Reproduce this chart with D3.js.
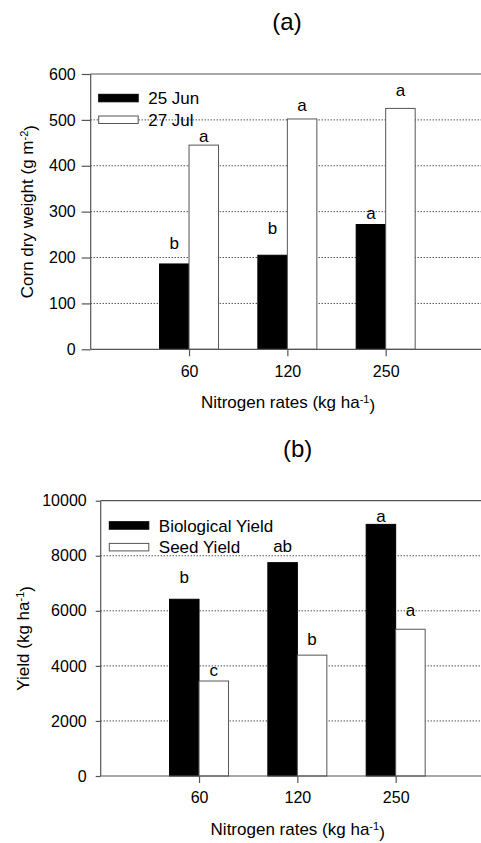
<!DOCTYPE html>
<html>
<head>
<meta charset="utf-8">
<script src="https://cdn.jsdelivr.net/npm/d3@7"></script>
<style>
  body { margin: 0; background: #fff; }
  svg { display: block; font-family: "Liberation Sans", Arial, sans-serif; }
</style>
</head>
<body>
<svg id="chart" width="481" height="843"></svg>
<script>
// nitrogen rates (x categories)
const rates = ['60', '120', '250'];

// (a) corn dry weight, g m-2
const jun25 = [186, 205, 272];
const jul27 = [445, 502, 525];
const jun25Letters = ['b', 'b', 'a'];
const jul27Letters = ['a', 'a', 'a'];
// upper end of the (hidden) error bars, where the letters sit
const jun25Upper = [219, 251, 284];
const jul27Upper = [452, 519, 551];
const weightTicks = [0, 100, 200, 300, 400, 500, 600];

// (b) yield, kg ha-1
const bioYield = [6420, 7750, 9140];
const seedYield = [3450, 4390, 5330];
const bioLetters = ['b', 'ab', 'a'];
const seedLetters = ['c', 'b', 'a'];
const bioUpper = [7000, 8120, 9240];
const seedUpper = [3630, 4750, 5810];
const yieldTicks = [0, 2000, 4000, 6000, 8000, 10000];

const svg = d3.select('#chart');
const axisColor = '#555';

function drawPanel(p) {
  const g = svg.append('g');

  var x = d3.scalePoint().domain(rates).range([p.left, p.right]).padding(1);
  var y = d3.scaleLinear().domain([0, p.ticks[p.ticks.length - 1]]).range([p.bottom, p.top]);
  const bw = 29.5;

  // title
  g.append('text')
    .attr('x', p.titleX).attr('y', p.titleY)
    .attr('text-anchor', 'middle')
    .style('font-size', '24px')
    .text(p.title);

  // dotted grid
  g.selectAll('.grid')
    .data(p.ticks.slice(1, -1))
    .enter().append('line')
    .attr('x1', p.left).attr('x2', p.right)
    .attr('y1', (d) => y(d)).attr('y2', (d) => y(d))
    .attr('stroke', '#000')
    .attr('stroke-width', 1)
    .attr('stroke-dasharray', '1,2');

  // frame top
  g.append('line')
    .attr('x1', p.left).attr('x2', p.right)
    .attr('y1', y(p.ticks[p.ticks.length - 1])).attr('y2', y(p.ticks[p.ticks.length - 1]))
    .attr('stroke', axisColor).attr('stroke-width', 1.2);

  // bars
  var series = [
    { vals: p.s1, fill: '#000', off: -bw, letters: p.l1, upper: p.u1 },
    { vals: p.s2, fill: '#fff', off: 0, letters: p.l2, upper: p.u2 }
  ];
  series.forEach((s) => {
    g.selectAll(null)
      .data(s.vals)
      .enter().append('rect')
      .attr('x', (d, i) => x(rates[i]) + s.off)
      .attr('y', (d) => y(d))
      .attr('width', bw)
      .attr('height', (d) => y(0) - y(d))
      .attr('fill', s.fill)
      .attr('stroke', s.fill == '#000' ? '#000' : axisColor)
      .attr('stroke-width', 1);

    g.selectAll(null)
      .data(s.letters)
      .enter().append('text')
      .attr('x', (d, i) => x(rates[i]) + s.off + bw / 2)
      .attr('y', (d, i) => y(s.upper[i]))
      .attr('text-anchor', 'middle')
      .style('font-size', '17px')
      .text((d) => d);
  });

  // axes
  var yAxis = d3.axisLeft(y).tickValues(p.ticks).tickFormat(d3.format('d'))
    .tickSize(p.yTick).tickPadding(p.yPad);
  var ya = g.append('g').attr('transform', `translate(${p.left},0)`).call(yAxis);
  var xAxis = d3.axisBottom(x).tickSize(7).tickPadding(9);
  var xa = g.append('g').attr('transform', `translate(0,${p.bottom})`).call(xAxis);
  [ya, xa].forEach((a) => {
    a.select('.domain').attr('stroke', axisColor).attr('stroke-width', 1.2);
    a.selectAll('line').attr('stroke', axisColor).attr('stroke-width', 1.2);
    a.selectAll('text').attr('fill', '#000').style('font-size', '16px')
      .style('font-family', '"Liberation Sans", Arial, sans-serif');
  });
  // extend x axis line across whole width
  xa.select('.domain').attr('d', `M${p.left},0H${p.right}`);
  ya.select('.domain').attr('d', `M0,${p.bottom}V${p.top}`);

  // axis titles
  var xt = g.append('text')
    .attr('x', p.xTitleX).attr('y', p.xTitleY)
    .attr('text-anchor', 'middle')
    .style('font-size', '17px');
  xt.append('tspan').text('Nitrogen rates (kg ha');
  xt.append('tspan').attr('dy', '-0.45em').style('font-size', '11px').text('-1');
  xt.append('tspan').attr('dy', '0.45em').text(')');

  var yt = g.append('text')
    .attr('transform', `translate(${p.yTitleX},${(p.top + p.bottom) / 2}) rotate(-90)`)
    .attr('text-anchor', 'middle')
    .style('font-size', '17px');
  yt.append('tspan').text(p.yTitle);
  yt.append('tspan').attr('dy', '-0.45em').style('font-size', '11px').text(p.yTitleSup);
  yt.append('tspan').attr('dy', '0.45em').text(')');

  // legend
  p.legend.forEach((name, i) => {
    var ly = p.legY + i * 21.7;
    g.append('rect')
      .attr('x', p.legX).attr('y', ly)
      .attr('width', 39.5).attr('height', 7.5)
      .attr('fill', i == 0 ? '#000' : '#fff')
      .attr('stroke', i == 0 ? '#000' : axisColor);
    g.append('text')
      .attr('x', p.legX + 49.5).attr('y', ly + 3.75)
      .attr('dy', '0.36em')
      .style('font-size', '17px')
      .text(name);
  });
}

drawPanel({
  title: '(a)', titleX: 287, titleY: 30,
  left: 90.7, right: 484, top: 74, bottom: 349.3,
  ticks: weightTicks, yTick: 9, yPad: 6,
  s1: jun25, s2: jul27, l1: jun25Letters, l2: jul27Letters, u1: jun25Upper, u2: jul27Upper,
  xTitleX: 288, xTitleY: 408,
  yTitleX: 33, yTitle: 'Corn dry weight (g m', yTitleSup: '-2',
  legend: ['25 Jun', '27 Jul'], legX: 98.7, legY: 94.3
});

drawPanel({
  title: '(b)', titleX: 297.7, titleY: 457,
  left: 100.7, right: 494, top: 500.7, bottom: 776,
  ticks: yieldTicks, yTick: 5, yPad: 9,
  s1: bioYield, s2: seedYield, l1: bioLetters, l2: seedLetters, u1: bioUpper, u2: seedUpper,
  xTitleX: 297.7, xTitleY: 835,
  yTitleX: 29, yTitle: 'Yield (kg ha', yTitleSup: '-1',
  legend: ['Biological Yield', 'Seed Yield'], legX: 109.3, legY: 521.7
});
</script>
</body>
</html>
